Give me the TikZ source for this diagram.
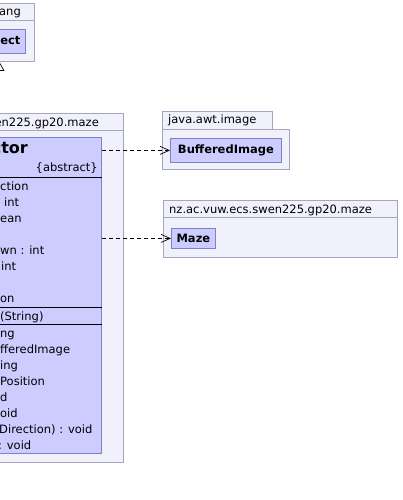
\documentclass[tikz,border=0pt]{standalone}
\usepackage{fontspec}
\setmainfont{DejaVu Sans}
\usetikzlibrary{arrows.meta}

\definecolor{pkgfill}{RGB}{241,241,252}
\definecolor{pkgline}{RGB}{165,165,190}
\definecolor{clsfill}{RGB}{204,204,255}
\definecolor{clsline}{RGB}{128,128,200}

\tikzset{
    pkg/.style={draw=pkgline,fill=pkgfill,line width=0.8pt},
    cls/.style={draw=clsline,fill=clsfill,line width=0.8pt,inner sep=0pt,anchor=north west,
        font=\bfseries\fontsize{11.5}{13}\selectfont},
    member/.style={inner sep=0pt,anchor=base west,font=\fontsize{11.5}{13}\selectfont},
    dep/.style={dashed,dash pattern=on 4pt off 3pt,line width=0.7pt,-{Straight Barb[length=9pt,width=8pt]}},
    gen/.style={line width=0.7pt,-{Triangle[open,fill=white,length=9pt,width=10pt]}}
}

\begin{document}
\begin{tikzpicture}[x=1pt,y=-1pt]
        \useasboundingbox (0,0) rectangle (402,500);
        \clip (0,0) rectangle (402,500);

        % java.lang
        \node[pkg,inner sep=0pt,anchor=north west,minimum width=70,minimum height=58] (lang) at (-36,3) {};
        \draw[pkgline,line width=0.8pt] (-36,20) -- (34,20);
        \node[member,anchor=base east] (langname) at (21,16) {java.lang};
        \node[cls,minimum width=52,minimum height=24] (object) at (-27,29) {Object};

        % java.awt.image
        \draw[pkg] (162,111) rectangle (272,129);
        \draw[pkg] (162,129) rectangle (289,169);
        \node[member] (awtname) at (168,124) {java.awt.image};
        \node[cls,minimum width=111,minimum height=24] (bufimg) at (170,138) {BufferedImage};

        % other maze package
        \draw[pkg] (163,200) rectangle (397,257);
        \draw[pkgline,line width=0.8pt] (163,217) -- (397,217);
        \node[member] (mazename) at (169,213) {nz.ac.vuw.ecs.swen225.gp20.maze};
        \node[cls,minimum width=44,minimum height=20] (maze) at (171,228) {Maze};

        % maze package with the abstract class
        \draw[pkg] (-80,113) rectangle (123,462);
        \draw[pkgline,line width=0.8pt] (-80,130) -- (123,130);
        \node[member,anchor=base east] (mainname) at (99,126) {nz.ac.vuw.ecs.swen225.gp20.maze};
        \node[cls,minimum width=221,minimum height=316] (actor) at (-120,137) {};
        \node[member,anchor=base east,font=\bfseries\fontsize{16}{18}\selectfont] (title) at (28,153) {Actor};
        \node[member,anchor=base east] (abs) at (98,171) {\{abstract\}};
        \foreach \y in {177,307,324} {
            \draw[line width=0.8pt] (actor.west |- 0,\y) -- (actor.east |- 0,\y);
        }
        \foreach \x/\y/\t [count=\k] in {0/190/ction, 4/206/int, 0/222/ean, 0/254/wn : int, 1/270/int, 0/302/on,
                0/320/(String), 0/337/ng, 0/353/fferedImage, 0/369/ing, 0/385/Position, 0/401/d,
                0/417/oid, -1/433/Direction) : void, -2/449/: void} {
            \node[member] (m\k) at (\x,\y) {\t};
        }

        % connectors
        \draw[gen] (actor.north -| lang.south) -- (lang.south);
        \draw[dep] (actor.east |- bufimg.west) -- (bufimg.west);
        \draw[dep] (actor.east |- maze.west) -- (maze.west);
    \end{tikzpicture}
\end{document}
